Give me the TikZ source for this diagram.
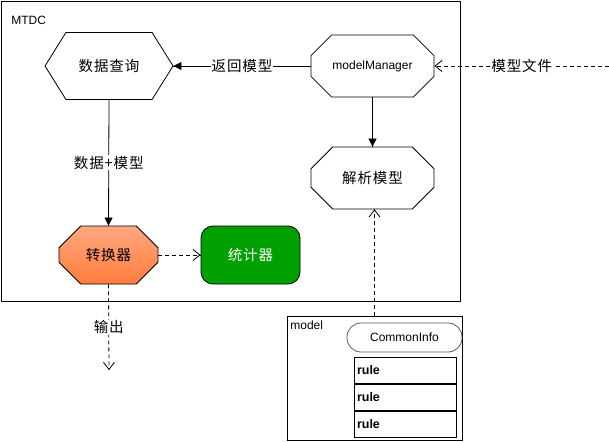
\documentclass[tikz,border=0pt]{standalone}
\usepackage{fontspec}
\setmainfont{Liberation Sans}
\newfontfamily\cjk[LetterSpace=6]{Noto Sans CJK SC}
\usepackage{xcolor}
\definecolor{lgray}{RGB}{150,150,150}
\definecolor{dgreen}{RGB}{0,160,0}
\definecolor{ltorange}{RGB}{255,168,128}
\definecolor{dkorange}{RGB}{255,124,60}
\usetikzlibrary{positioning, calc, shapes.misc, shapes.symbols, arrows.meta, decorations.markings}
\tikzstyle{Hexa} = [
signal, signal to=west and east, signal pointer angle=116,
draw, inner sep=0pt,
minimum width=128pt, minimum height=67pt]
\tikzstyle{Octa} = [
chamfered rectangle,
chamfered rectangle xsep=21pt, chamfered rectangle ysep=15pt,
draw, inner sep=0pt,
minimum width=123pt, minimum height=62pt]
\tikzstyle{Cn} = [font=\cjk\fontsize{14.5}{16}\selectfont]
\tikzstyle{Row} = [
draw, inner sep=3pt, text width=96pt, minimum height=26.3pt,
font=\bfseries\fontsize{12.5}{14}\selectfont]
\tikzstyle{Arrow} = [
decoration={
markings,
mark=at position 0.9999 with {
\arrow{Triangle[length=8pt,width=8pt]}}},
preaction = {decorate}]
\tikzstyle{ArrowDash} = [
dash pattern=on 4pt off 3pt,
decoration={
markings,
mark=at position 0.9999 with {
\arrow[solid]{Straight Barb[length=7pt,width=11pt]}}},
preaction = {decorate}]

\begin{document}
\begin{tikzpicture}[x=1pt, y=-1pt, line width=0.8pt]
    \useasboundingbox (0,0) rectangle (609,441);
    % MTDC frame
    \draw (1,1) rectangle (460,301);
    \node [anchor=base west, inner sep=0pt, font=\fontsize{12}{14}\selectfont] at (11,25) {MTDC};

    \node [Hexa, Cn] (1) at (109,66) {数据查询};
    \node [Octa, font=\fontsize{12}{14}\selectfont] (2) at (372.5,66) {modelManager};
    \node [Octa, Cn] (3) at (372.5,178) {解析模型};
    \node [Octa, Cn, chamfered rectangle xsep=18pt, minimum width=99pt, minimum height=58pt,
        top color=ltorange, bottom color=dkorange] (4) at (108.5,255) {转换器};
    \node [draw, rounded corners=12pt, fill=dgreen, text=white, Cn,
        minimum width=99pt, minimum height=58pt] (5) at (250.5,255) {统计器};

    % model box
    \node [draw, minimum width=175pt, minimum height=124pt] (6) at (374.5,378) {};
    \node [anchor=base west, inner sep=0pt, font=\fontsize{12}{14}\selectfont] at (290,329) {model};
    \node [draw=lgray!60!black, rounded corners=14pt, minimum width=115pt, minimum height=29pt,
        font=\fontsize{12}{14}\selectfont] (7) at (404.5,337.5) {CommonInfo};
    \node [Row] (8) at (405,370.2) {rule};
    \node [Row, below=0pt of 8] (9) {rule};
    \node [Row, below=0pt of 9] (10) {rule};

    \coordinate (11) at (609,66);
    \coordinate (12) at (109,370);

    \draw[Arrow] (2.west)--(1.east) node[midway, fill=white, Cn, inner sep=1pt] {返回模型};
    \draw[Arrow] (2.south)--(3.north);
    \draw[Arrow] (1.south)--(4.north) node[midway, fill=white, Cn, inner sep=1pt] {数据+模型};
    \draw[ArrowDash] (11)--(2.east) node[midway, fill=white, Cn, inner sep=1pt] {模型文件};
    \draw[ArrowDash] (4.east)--(5.west);
    \draw[ArrowDash] (4.south)--(12) node[midway, fill=white, Cn, inner sep=1pt] {输出};
    \draw[ArrowDash] (6.north)--(6.north |- 3.south);
\end{tikzpicture}
\end{document}
